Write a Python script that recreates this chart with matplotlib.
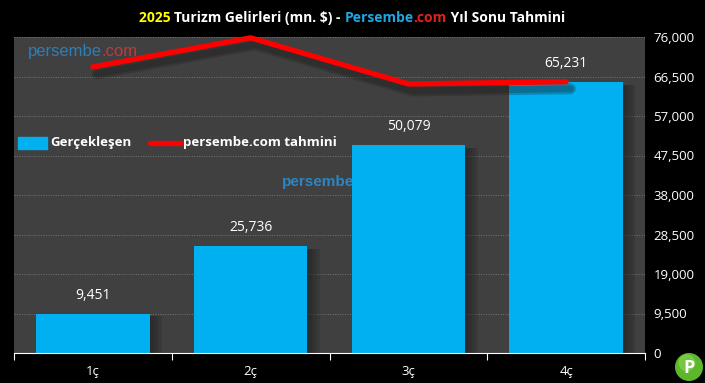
import numpy as np
import matplotlib
matplotlib.use('Agg')
import matplotlib.pyplot as plt
import matplotlib.patheffects as pe
from matplotlib.patches import Circle

# data
quarters = ['1ç', '2ç', '3ç', '4ç']
actual = [9451, 25736, 50079, 65231]
forecast = [68800, 75800, 64700, 65231]
yticks = [0, 9500, 19000, 28500, 38000, 47500, 57000, 66500, 76000]

BAR = '#00B0F0'
RED = '#FF0000'
BG = '#404040'

plt.rcParams['font.family'] = ['Open Sans', 'DejaVu Sans']

fig = plt.figure(figsize=(7.05, 3.83), dpi=100, facecolor='black')
ax = fig.add_axes([14/705, 30/383, 631/705, 316/383])
ax.set_facecolor(BG)

x = np.arange(len(quarters))
ax.set_xlim(-0.5, 3.5)
ax.set_ylim(0, 76000)

for t in yticks[1:]:
    ax.axhline(t, color='#767676', lw=0.7, ls=(0, (1, 1.5)), zorder=1)

# watermark behind bars
ax.text(0.425, 0.53, 'persembe', transform=ax.transAxes, color='#2a86c4',
        fontsize=11, fontweight='bold', family=['Arial', 'Liberation Sans', 'DejaVu Sans'], zorder=1.5)

# soft shadows: a few stacked translucent layers
shadow = [pe.SimplePatchShadow(offset=(o, -2), shadow_rgbFace='#1e1e1e', alpha=0.18) for o in (3, 5, 7, 9)]
bars = ax.bar(x, actual, width=0.72, color=BAR, zorder=2, path_effects=shadow + [pe.Normal()])
for xi, v in zip(x, actual):
    ax.text(xi, v + 2600, f'{v:,}', ha='center', va='bottom', color='white', fontsize=10, zorder=4)

lshadow = [pe.SimpleLineShadow(offset=(3, -5), shadow_color='#1a1a1a', alpha=0.25, linewidth=w)
           for w in (8, 5)]
ax.plot(x, forecast, color=RED, lw=3.8, solid_capstyle='round', zorder=3,
        path_effects=lshadow + [pe.Normal()], clip_on=False)

for s in ['top', 'left', 'right']:
    ax.spines[s].set_visible(False)
ax.spines['bottom'].set_color('white')
ax.spines['bottom'].set_linewidth(0.8)

ax.set_xticks([-0.5, 0.5, 1.5, 2.5, 3.5])
ax.set_xticklabels([])
ax.tick_params(axis='x', which='major', colors='white', length=5, width=0.8, direction='out')
ax.set_xticks(x, minor=True)
ax.set_xticklabels(quarters, minor=True, color='white', fontsize=9.5)
ax.tick_params(axis='x', which='minor', length=0, pad=9)

ax.yaxis.tick_right()
ax.set_yticks(yticks)
ax.set_yticklabels([f'{t:,}' for t in yticks], color='white', fontsize=9.5)
ax.tick_params(axis='y', length=0, pad=6)

# top-left watermark
wm1 = ax.text(0.022, 0.955, 'persembe', transform=ax.transAxes, color='#2a7fba',
              fontsize=12, va='center', family=['Arial', 'Liberation Sans', 'DejaVu Sans'], zorder=5)
fig.canvas.draw()
r = fig.canvas.get_renderer()
bb = wm1.get_window_extent(r)
fig.text(bb.x1 / fig.bbox.width, bb.y0 / fig.bbox.height, '.com', color='#c0393b', fontsize=12,
         va='bottom', family=['Arial', 'Liberation Sans', 'DejaVu Sans'])

# legend
leg_y = 0.665
ax.add_patch(plt.Rectangle((0.007, leg_y - 0.02), 0.045, 0.04, transform=ax.transAxes,
                           color=BAR, zorder=5, clip_on=False))
ax.text(0.057, leg_y, 'Gerçekleşen', transform=ax.transAxes, color='white', fontsize=9.5,
        fontweight='bold', va='center', zorder=5)
ax.plot([0.215, 0.265], [leg_y, leg_y], transform=ax.transAxes, color=RED, lw=3.8,
        solid_capstyle='round', zorder=5)
ax.text(0.268, leg_y, 'persembe.com tahmini', transform=ax.transAxes, color='white',
        fontsize=9.5, fontweight='bold', va='center', zorder=5)

# title in pieces
parts = [('2025 ', '#FFFF00'), ('Turizm Gelirleri (mn. $) - ', 'white'), ('Persembe', '#1ea6e0'),
         ('.com', '#e02020'), (' Yıl Sonu Tahmini', 'white')]
texts = []
xpos = 0
for s, c in parts:
    t = fig.text(xpos, 0.952, s, color=c, fontsize=10, fontweight='bold', va='center', ha='left')
    fig.canvas.draw()
    w = t.get_window_extent(fig.canvas.get_renderer()).width / fig.bbox.width
    texts.append((t, w))
    xpos += w
total = xpos
start = 352 / 705 - total / 2
for t, w in texts:
    t.set_x(start)
    start += w

# P logo
logo = fig.add_axes([675/705, 2/383, 28/705, 28/383])
logo.set_xlim(-1, 1)
logo.set_ylim(-1, 1)
logo.set_aspect('equal')
logo.axis('off')
logo.add_patch(Circle((0, 0), 0.95, color='#5cb82a'))
logo.add_patch(Circle((-0.15, 0.3), 0.55, color='#8ed65a', alpha=0.5))
logo.text(0, -0.05, 'P', color='white', fontsize=13, fontweight='bold', ha='center', va='center')

fig.savefig('out.png', dpi=100, facecolor='black')
